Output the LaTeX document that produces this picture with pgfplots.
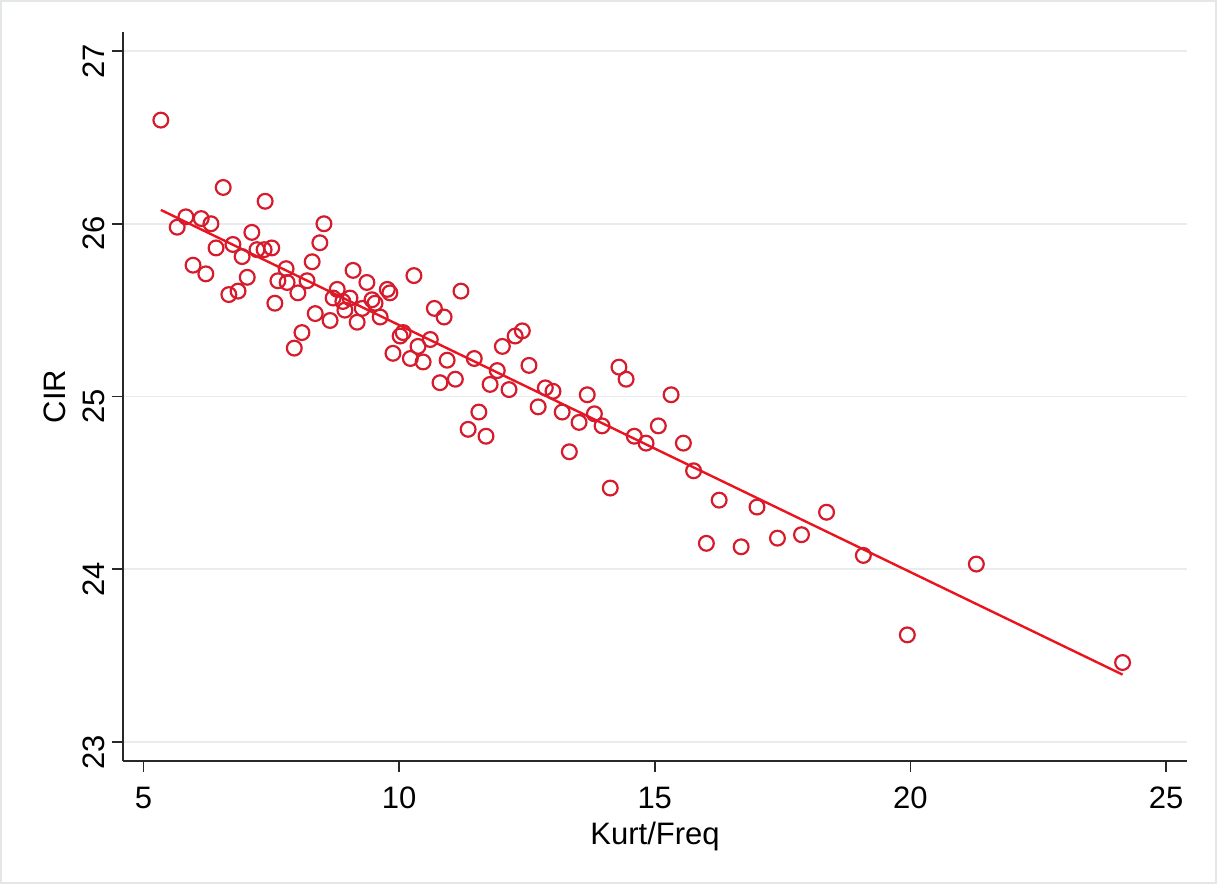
\documentclass[border=0pt]{standalone}
\usepackage{pgfplots}
\pgfplotsset{compat=1.18}
\usepackage{fontspec}
\setmainfont{Liberation Sans}

\definecolor{markred}{RGB}{214,28,44}
\definecolor{fitred}{RGB}{235,20,30}
\definecolor{gridgray}{RGB}{232,236,236}
\definecolor{axisgray}{RGB}{40,40,40}
\definecolor{framegray}{RGB}{228,231,231}

\pgfplotstableread{
x y
5.34 26.60
5.83 26.04
5.66 25.98
6.13 26.03
6.32 26.00
5.97 25.76
6.22 25.71
6.42 25.86
6.56 26.21
6.75 25.88
6.93 25.81
6.67 25.59
6.85 25.61
7.03 25.69
7.12 25.95
7.22 25.85
7.38 26.13
7.36 25.85
7.51 25.86
7.57 25.54
7.63 25.67
7.79 25.74
7.81 25.66
8.02 25.60
7.95 25.28
8.10 25.37
8.20 25.67
8.30 25.78
8.36 25.48
8.45 25.89
8.53 26.00
8.65 25.44
8.71 25.57
8.79 25.62
8.90 25.55
9.04 25.57
8.94 25.50
9.10 25.73
9.18 25.43
9.28 25.51
9.37 25.66
9.47 25.56
9.53 25.54
9.63 25.46
9.77 25.62
9.82 25.60
9.88 25.25
10.02 25.35
10.08 25.37
10.22 25.22
10.29 25.70
10.37 25.29
10.47 25.20
10.61 25.33
10.69 25.51
10.80 25.08
10.88 25.46
10.94 25.21
11.10 25.10
11.21 25.61
11.35 24.81
11.47 25.22
11.56 24.91
11.70 24.77
11.78 25.07
11.92 25.15
12.02 25.29
12.15 25.04
12.27 25.35
12.41 25.38
12.54 25.18
12.72 24.94
12.86 25.05
13.01 25.03
13.19 24.91
13.33 24.68
13.52 24.85
13.68 25.01
13.82 24.90
13.97 24.83
14.13 24.47
14.30 25.17
14.44 25.10
14.60 24.77
14.83 24.73
15.07 24.83
15.32 25.01
15.56 24.73
15.76 24.57
16.01 24.15
16.26 24.40
16.69 24.13
17.00 24.36
17.40 24.18
17.87 24.20
18.36 24.33
19.08 24.08
19.94 23.62
21.29 24.03
24.15 23.46
}\scatterdata

\begin{document}
\begin{tikzpicture}[x=1pt,y=1pt]
  % page area and light outer frame
  \path[use as bounding box] (0,0) rectangle (608.5,442);
  \draw[framegray, line width=1pt] (0.5,0.5) rectangle (608,441.5);
  \begin{axis}[
    at={(61.5pt,61.5pt)}, anchor=south west,
    scale only axis,
    width=532pt, height=364.5pt,
    xmin=4.60, xmax=25.41,
    ymin=22.89, ymax=27.11,
    axis lines*=left,
    axis line style={axisgray, line width=0.9pt, -},
    xtick={5,10,15,20,25},
    ytick={23,24,25,26,27},
    tick align=outside,
    major tick length=5.5pt,
    tick style={axisgray, line width=0.8pt},
    ymajorgrids,
    grid style={gridgray, line width=0.9pt},
    /pgf/number format/assume math mode=true,
    tick label style={font=\fontsize{15.5}{18}\selectfont, text=black},
    xticklabel style={yshift=-4pt},
    yticklabel style={rotate=90, anchor=south, xshift=-5pt},
    xlabel={Kurt/Freq},
    ylabel={CIR},
    label style={font=\fontsize{15.5}{18}\selectfont},
    xlabel style={at={(axis description cs:0.5,-0.104)}, anchor=center},
    ylabel style={at={(axis description cs:-0.064,0.5)}, anchor=center},
    clip=false,
  ]
    \addplot[only marks, mark=o, mark size=3.7pt,
             mark options={draw=markred, line width=1.1pt}]
      table {\scatterdata};
    % fitted values
    \addplot[fitred, line width=1.2pt] coordinates {(5.34,26.08) (24.15,23.39)};
  \end{axis}
\end{tikzpicture}
\end{document}
